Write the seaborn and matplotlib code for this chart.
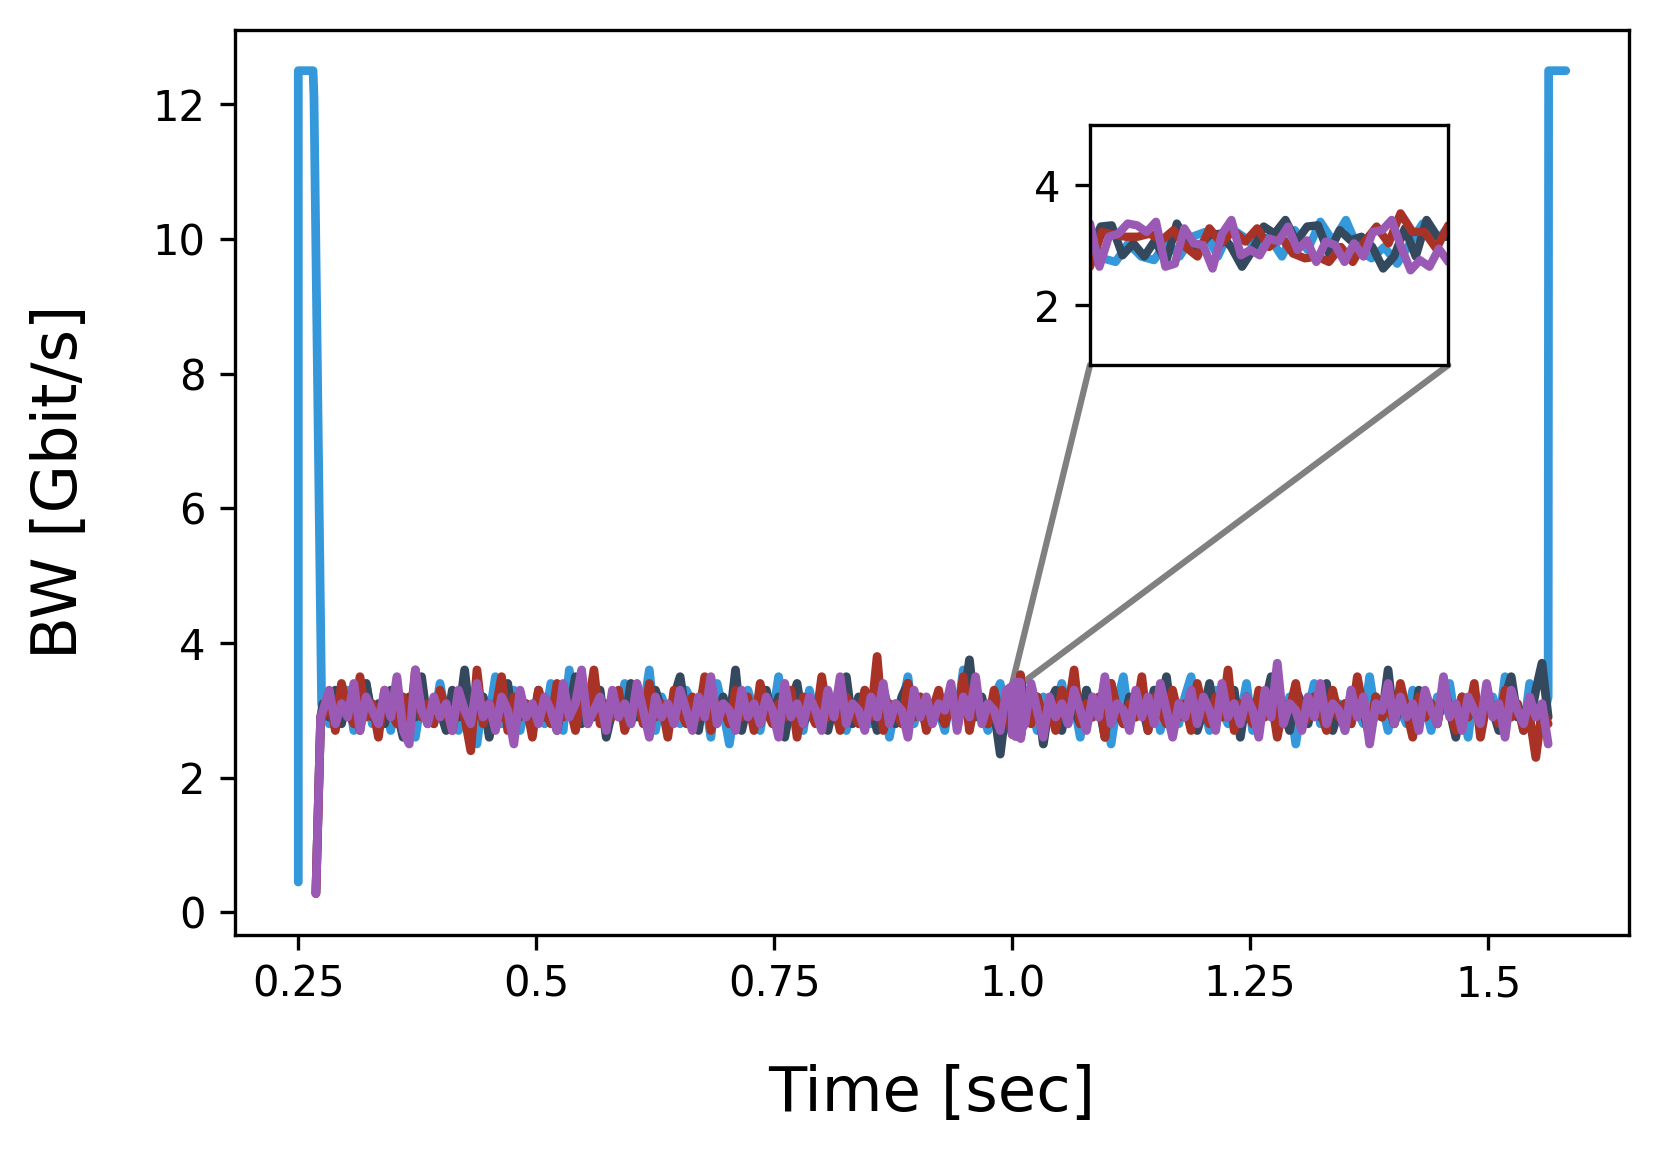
import numpy as np
import pandas as pd
import matplotlib
matplotlib.use("Agg")
import matplotlib.pyplot as plt
import seaborn as sns
from matplotlib.patches import ConnectionPatch

# --- data (Gbit/s) ---
t_noise0, t_noise1 = 0.276, 1.563      # steady noisy part
zoom0, zoom1 = 1.0, 1.01               # window shown in the inset

blue_noise = [
    3.0, 2.8, 3.2, 2.9, 3.3, 2.7, 3.1, 3.4, 2.8, 3.0, 3.2, 2.7, 3.3, 2.9, 3.1, 2.6, 3.2, 3.0, 2.8, 3.4,
    2.9, 3.1, 2.7, 3.3, 3.0, 2.5, 3.2, 2.9, 3.5, 2.8, 3.0, 3.3, 2.7, 3.1, 2.9, 3.2, 2.8, 3.4, 3.0, 2.7,
    3.6, 2.9, 3.1, 2.8, 3.3, 3.0, 2.7, 3.2, 2.9, 3.4, 2.8, 3.1, 3.0, 3.6, 2.7, 3.2, 2.9, 3.0, 2.8, 3.3,
    3.1, 2.9, 3.2, 2.6, 3.4, 3.0, 2.5, 3.1, 2.8, 3.3, 3.0, 2.7, 3.2, 2.9, 3.5, 2.8, 3.1, 3.0, 2.7, 3.3,
    2.9, 3.2, 2.8, 3.0, 3.4, 2.7, 3.1, 2.9, 3.3, 2.8, 3.0, 3.2, 2.6, 3.1, 3.0, 3.5, 2.8, 3.2, 2.9, 3.1,
    3.0, 2.7, 3.3, 2.9, 3.6, 2.8, 3.1, 3.0, 2.7, 3.2, 3.4, 2.9, 3.0, 2.8, 3.3, 3.1, 2.7, 3.2, 2.9, 3.0,
    3.4, 2.8, 3.1, 2.6, 3.3, 3.0, 2.9, 3.2, 2.5, 3.1, 3.5, 2.8, 3.0, 3.2, 2.9, 3.3, 2.7, 3.1, 3.0, 2.8,
    3.2, 3.5, 2.9, 3.1, 2.7, 3.3, 3.0, 2.8, 3.2, 2.9, 3.4, 2.7, 3.1, 3.0, 2.9, 3.3, 2.8, 3.2, 2.5, 3.1,
    3.0, 3.4, 2.8, 3.2, 2.9, 3.1, 2.7, 3.3, 3.0, 2.8, 3.5, 2.9, 3.1, 2.7, 3.2, 3.0, 2.8, 3.3, 2.9, 3.1,
    2.7, 3.2, 3.0, 3.4, 2.8, 3.1, 2.6, 3.3, 2.9, 3.0, 3.2, 2.8, 3.5, 2.9, 3.1, 2.7, 3.4, 3.0, 2.8, 3.2,
]
dark_noise = [
    3.1, 2.9, 3.3, 2.8, 3.2, 3.0, 2.7, 3.4, 2.9, 3.1, 2.8, 3.3, 3.0, 2.6, 3.2, 2.9, 3.5, 2.8, 3.1, 3.0,
    2.7, 3.3, 2.9, 3.6, 2.8, 3.0, 3.2, 2.6, 3.1, 2.9, 3.4, 2.7, 3.2, 3.0, 2.8, 3.3, 2.9, 3.1, 2.7, 3.2,
    3.0, 3.5, 2.8, 3.1, 2.9, 3.3, 2.6, 3.0, 3.2, 2.8, 3.4, 2.9, 3.1, 2.7, 3.3, 3.0, 2.8, 3.2, 3.5, 2.9,
    3.1, 2.7, 3.3, 3.0, 2.9, 3.2, 2.8, 3.6, 2.7, 3.1, 3.0, 2.8, 3.3, 2.9, 3.2, 2.6, 3.1, 3.4, 2.8, 3.0,
    2.9, 3.3, 2.7, 3.1, 3.0, 3.5, 2.8, 3.2, 2.9, 3.1, 2.7, 3.3, 3.0, 2.8, 3.2, 3.4, 2.9, 3.0, 2.8, 3.1,
    3.0, 2.8, 3.2, 2.9, 3.1, 3.75, 2.9, 3.2, 2.8, 3.0, 2.35, 3.1, 2.7, 3.4, 3.0, 2.9, 3.2, 2.5, 3.1, 3.3,
    2.7, 3.2, 3.0, 2.8, 3.3, 2.9, 3.1, 2.6, 3.4, 3.0, 2.8, 3.2, 2.9, 3.1, 2.7, 3.3, 3.0, 3.5, 2.8, 3.1,
    2.9, 3.2, 2.7, 3.0, 3.4, 2.8, 3.1, 2.9, 3.3, 2.6, 3.2, 3.0, 2.8, 3.1, 3.5, 2.9, 3.0, 2.7, 3.3, 3.1,
    2.8, 3.2, 2.9, 3.4, 2.7, 3.0, 3.1, 2.8, 3.3, 3.0, 2.6, 3.2, 2.9, 3.6, 2.8, 3.1, 3.0, 2.7, 3.3, 2.9,
    3.1, 2.8, 3.4, 3.0, 2.6, 3.2, 2.9, 3.1, 2.8, 3.3, 3.0, 2.7, 3.2, 3.5, 2.9, 3.0, 2.8, 3.3, 3.7, 2.9,
]
red_noise = [
    2.9, 3.2, 2.7, 3.4, 3.0, 2.8, 3.5, 2.9, 3.1, 2.6, 3.3, 3.0, 2.8, 3.2, 2.7, 3.6, 2.9, 3.1, 2.8, 3.3,
    3.0, 2.7, 3.2, 2.9, 2.4, 3.6, 2.8, 3.1, 3.0, 3.5, 2.7, 3.2, 2.9, 3.1, 2.6, 3.3, 3.0, 2.8, 3.4, 2.9,
    3.1, 2.7, 3.2, 3.0, 3.6, 2.8, 3.1, 2.9, 3.3, 2.7, 3.0, 3.2, 2.8, 3.4, 2.9, 3.1, 2.6, 3.3, 3.0, 2.8,
    3.2, 2.9, 3.5, 2.7, 3.1, 3.0, 2.8, 3.3, 2.9, 3.2, 2.7, 3.4, 3.0, 2.8, 3.1, 2.9, 3.3, 2.6, 3.2, 3.0,
    2.8, 3.5, 2.9, 3.1, 2.7, 3.2, 3.0, 2.8, 3.3, 2.9, 3.8, 2.7, 3.1, 3.0, 2.8, 3.4, 2.9, 3.2, 2.7, 3.0,
    3.3, 2.8, 3.1, 2.9, 3.5, 2.7, 3.2, 3.0, 2.8, 3.3, 2.9, 3.1, 2.6, 3.4, 3.0, 2.8, 3.2, 2.9, 3.1, 2.7,
    3.3, 3.0, 3.6, 2.8, 3.1, 2.9, 3.2, 2.6, 3.4, 3.0, 2.8, 3.1, 2.9, 3.5, 2.7, 3.2, 3.0, 2.8, 3.3, 2.9,
    3.1, 2.7, 3.4, 3.0, 2.8, 3.2, 2.9, 3.6, 2.7, 3.1, 3.0, 2.8, 3.3, 2.9, 3.2, 2.6, 3.1, 3.0, 3.4, 2.8,
    2.9, 3.2, 3.0, 2.7, 3.3, 2.9, 3.1, 2.8, 3.5, 3.0, 2.7, 3.2, 2.9, 3.1, 2.8, 3.4, 3.0, 2.6, 3.2, 2.9,
    3.1, 2.8, 3.3, 3.0, 2.7, 3.2, 2.9, 3.4, 2.6, 3.1, 3.0, 2.8, 3.3, 2.9, 3.1, 2.7, 2.9, 2.3, 3.0, 2.8,
]
purple_noise = [
    3.0, 3.3, 2.8, 3.1, 2.9, 3.4, 2.7, 3.2, 3.0, 2.8, 3.3, 2.9, 3.5, 2.7, 2.5, 3.6, 3.0, 2.8, 3.2, 2.9,
    3.1, 2.7, 3.3, 3.0, 2.8, 3.4, 2.9, 3.1, 2.7, 3.2, 3.0, 2.5, 3.3, 2.9, 3.1, 2.8, 3.2, 3.0, 2.7, 3.4,
    2.9, 3.1, 3.6, 2.8, 3.0, 3.2, 2.7, 3.3, 2.9, 3.1, 2.8, 3.4, 3.0, 2.6, 3.2, 2.9, 3.1, 2.8, 3.3, 3.0,
    2.7, 3.2, 2.9, 3.5, 2.8, 3.1, 3.0, 2.7, 3.3, 2.9, 3.1, 2.8, 3.2, 3.0, 2.6, 3.4, 2.9, 3.1, 2.8, 3.2,
    3.0, 2.7, 3.3, 2.9, 3.5, 2.8, 3.1, 3.0, 2.7, 3.2, 2.9, 3.4, 2.8, 3.1, 3.0, 2.6, 3.3, 2.9, 3.2, 2.8,
    3.1, 3.0, 3.4, 2.7, 3.2, 2.9, 3.5, 2.8, 3.1, 3.0, 2.7, 3.3, 2.9, 3.1, 2.8, 3.4, 3.0, 2.6, 3.2, 2.9,
    3.1, 2.8, 3.3, 3.0, 2.7, 3.2, 2.9, 3.5, 2.8, 3.1, 3.0, 2.7, 3.3, 2.9, 3.2, 2.8, 3.4, 3.0, 2.6, 3.1,
    2.9, 3.3, 2.8, 3.2, 3.0, 2.7, 3.4, 2.9, 3.1, 2.8, 3.2, 3.0, 2.6, 3.3, 2.9, 3.7, 2.8, 3.1, 3.0, 2.7,
    3.2, 2.9, 3.4, 2.8, 3.1, 3.0, 2.7, 3.3, 2.9, 3.2, 2.5, 3.1, 3.0, 3.4, 2.8, 3.2, 2.9, 3.1, 2.7, 3.3,
    3.0, 2.8, 3.5, 2.9, 3.1, 2.7, 3.2, 3.0, 2.8, 3.4, 2.9, 3.1, 2.6, 3.3, 3.0, 2.8, 3.2, 2.9, 3.1, 2.5,
]

# finer samples inside the inset window [1.0, 1.01]
blue_zoom = [3.14, 2.78, 2.72, 3.03, 2.81, 2.75, 3.06, 2.81, 3.14, 3.22, 2.81, 3.28, 3.14, 2.94, 3.14,
             2.81, 3.25, 2.92, 3.39, 3.06, 3.42, 2.92, 2.78, 2.97, 2.69, 3.03, 3.36, 3.03, 3.31]
dark_zoom = [2.92, 3.31, 3.33, 2.83, 3.03, 2.81, 3.08, 2.72, 3.36, 3.03, 2.97, 3.17, 3.19, 2.97, 2.64,
             2.92, 3.31, 3.19, 3.42, 3.06, 3.31, 3.33, 2.86, 3.25, 3.08, 3.14, 2.97, 2.61, 2.81, 3.28,
             2.81, 3.42, 3.14, 3.14]
red_zoom = [2.64, 3.22, 3.17, 3.14, 3.14, 3.19, 3.08, 3.25, 2.97, 2.81, 3.28, 3.03, 3.25, 3.06, 3.28,
            2.97, 3.14, 2.86, 2.78, 2.81, 2.72, 2.97, 2.72, 3.06, 3.31, 3.03, 3.53, 3.22, 3.22, 2.94, 3.33]
purple_zoom = [3.36, 2.64, 3.14, 3.19, 3.36, 3.33, 3.22, 3.39, 2.64, 2.69, 3.28, 3.03, 3.0, 2.61, 3.19,
               3.42, 2.83, 2.92, 2.83, 3.11, 3.06, 3.31, 2.92, 3.08, 2.72, 3.06, 3.0, 2.72, 3.03, 2.81,
               3.22, 3.25, 3.42, 2.97, 2.58, 2.75, 2.64, 2.94, 2.72]

# start-up / tear-down segments
blue_head_t, blue_head_v = [0.25, 0.25, 0.2655, 0.2665, 0.2745], [0.45, 12.5, 12.5, 12.1, 3.1]
blue_tail_t, blue_tail_v = [1.5635, 1.5815], [12.5, 12.5]
other_head_t, other_head_v = [0.2685, 0.2735], [0.28, 2.9]

colors = {"blue": "#3498db", "dark": "#34495e", "red": "#a93226", "purple": "#9b59b6"}


def build(noise, zoom, head_t, head_v, tail_t=(), tail_v=()):
    t = np.linspace(t_noise0, t_noise1, len(noise))
    v = np.asarray(noise)
    tz = np.linspace(zoom0, zoom1, len(zoom))
    pre, post = t < zoom0, t > zoom1
    tt = np.concatenate([head_t, t[pre], tz, t[post], tail_t])
    vv = np.concatenate([head_v, v[pre], zoom, v[post], tail_v])
    return pd.DataFrame({"t": tt, "bw": vv})


series = [
    ("blue", build(blue_noise, blue_zoom, blue_head_t, blue_head_v, blue_tail_t, blue_tail_v)),
    ("dark", build(dark_noise, dark_zoom, other_head_t, other_head_v)),
    ("red", build(red_noise, red_zoom, other_head_t, other_head_v)),
    ("purple", build(purple_noise, purple_zoom, other_head_t, other_head_v)),
]

sns.set_style("ticks", {"text.color": "black", "axes.labelcolor": "black",
                        "xtick.color": "black", "ytick.color": "black",
                        "axes.edgecolor": "black"})
plt.rcParams["font.family"] = ["DejaVu Sans"]

fig = plt.figure(figsize=(1659 / 300, 1159 / 300), dpi=300)
ax = fig.add_axes([0.1416, 0.1936, 0.8404, 0.7809])

for name, df in series:
    sns.lineplot(data=df, x="t", y="bw", ax=ax, color=colors[name], lw=2.1,
                 estimator=None, sort=False, zorder=2)

ax.set_xticks([0.25, 0.5, 0.75, 1.0, 1.25, 1.5])
ax.set_xticklabels(["0.25", "0.5", "0.75", "1.0", "1.25", "1.5"])
ax.set_yticks([0, 2, 4, 6, 8, 10, 12])
ax.tick_params(labelsize=10, width=0.8, length=3.5, color="black", labelcolor="black")
ax.set_xlabel("Time [sec]", fontsize=15, labelpad=14, color="black")
ax.set_ylabel("BW [Gbit/s]", fontsize=15, labelpad=15, color="black")
for sp in ax.spines.values():
    sp.set_color("black")
    sp.set_linewidth(0.8)

# inset
axin = fig.add_axes([0.657, 0.685, 0.216, 0.207])
for name, df in series:
    sns.lineplot(data=df, x="t", y="bw", ax=axin, color=colors[name], lw=2.0,
                 estimator=None, sort=False)
axin.set_xlim(zoom0, zoom1)
axin.set_ylim(1, 5)
axin.set_xticks([])
axin.set_yticks([2, 4])
axin.tick_params(labelsize=10, width=0.8, length=3.5, color="black", labelcolor="black")
axin.set_xlabel("")
axin.set_ylabel("")
for sp in axin.spines.values():
    sp.set_color("black")
    sp.set_linewidth(0.8)

for xa, xb in [(0, zoom0), (1, zoom1)]:
    con = ConnectionPatch(xyA=(xa, 0), coordsA=axin.transAxes, xyB=(xb, 3.4),
                          coordsB=ax.transData, color="gray", lw=1.5, zorder=1)
    ax.add_artist(con)

fig.savefig("out.png", dpi=300)
